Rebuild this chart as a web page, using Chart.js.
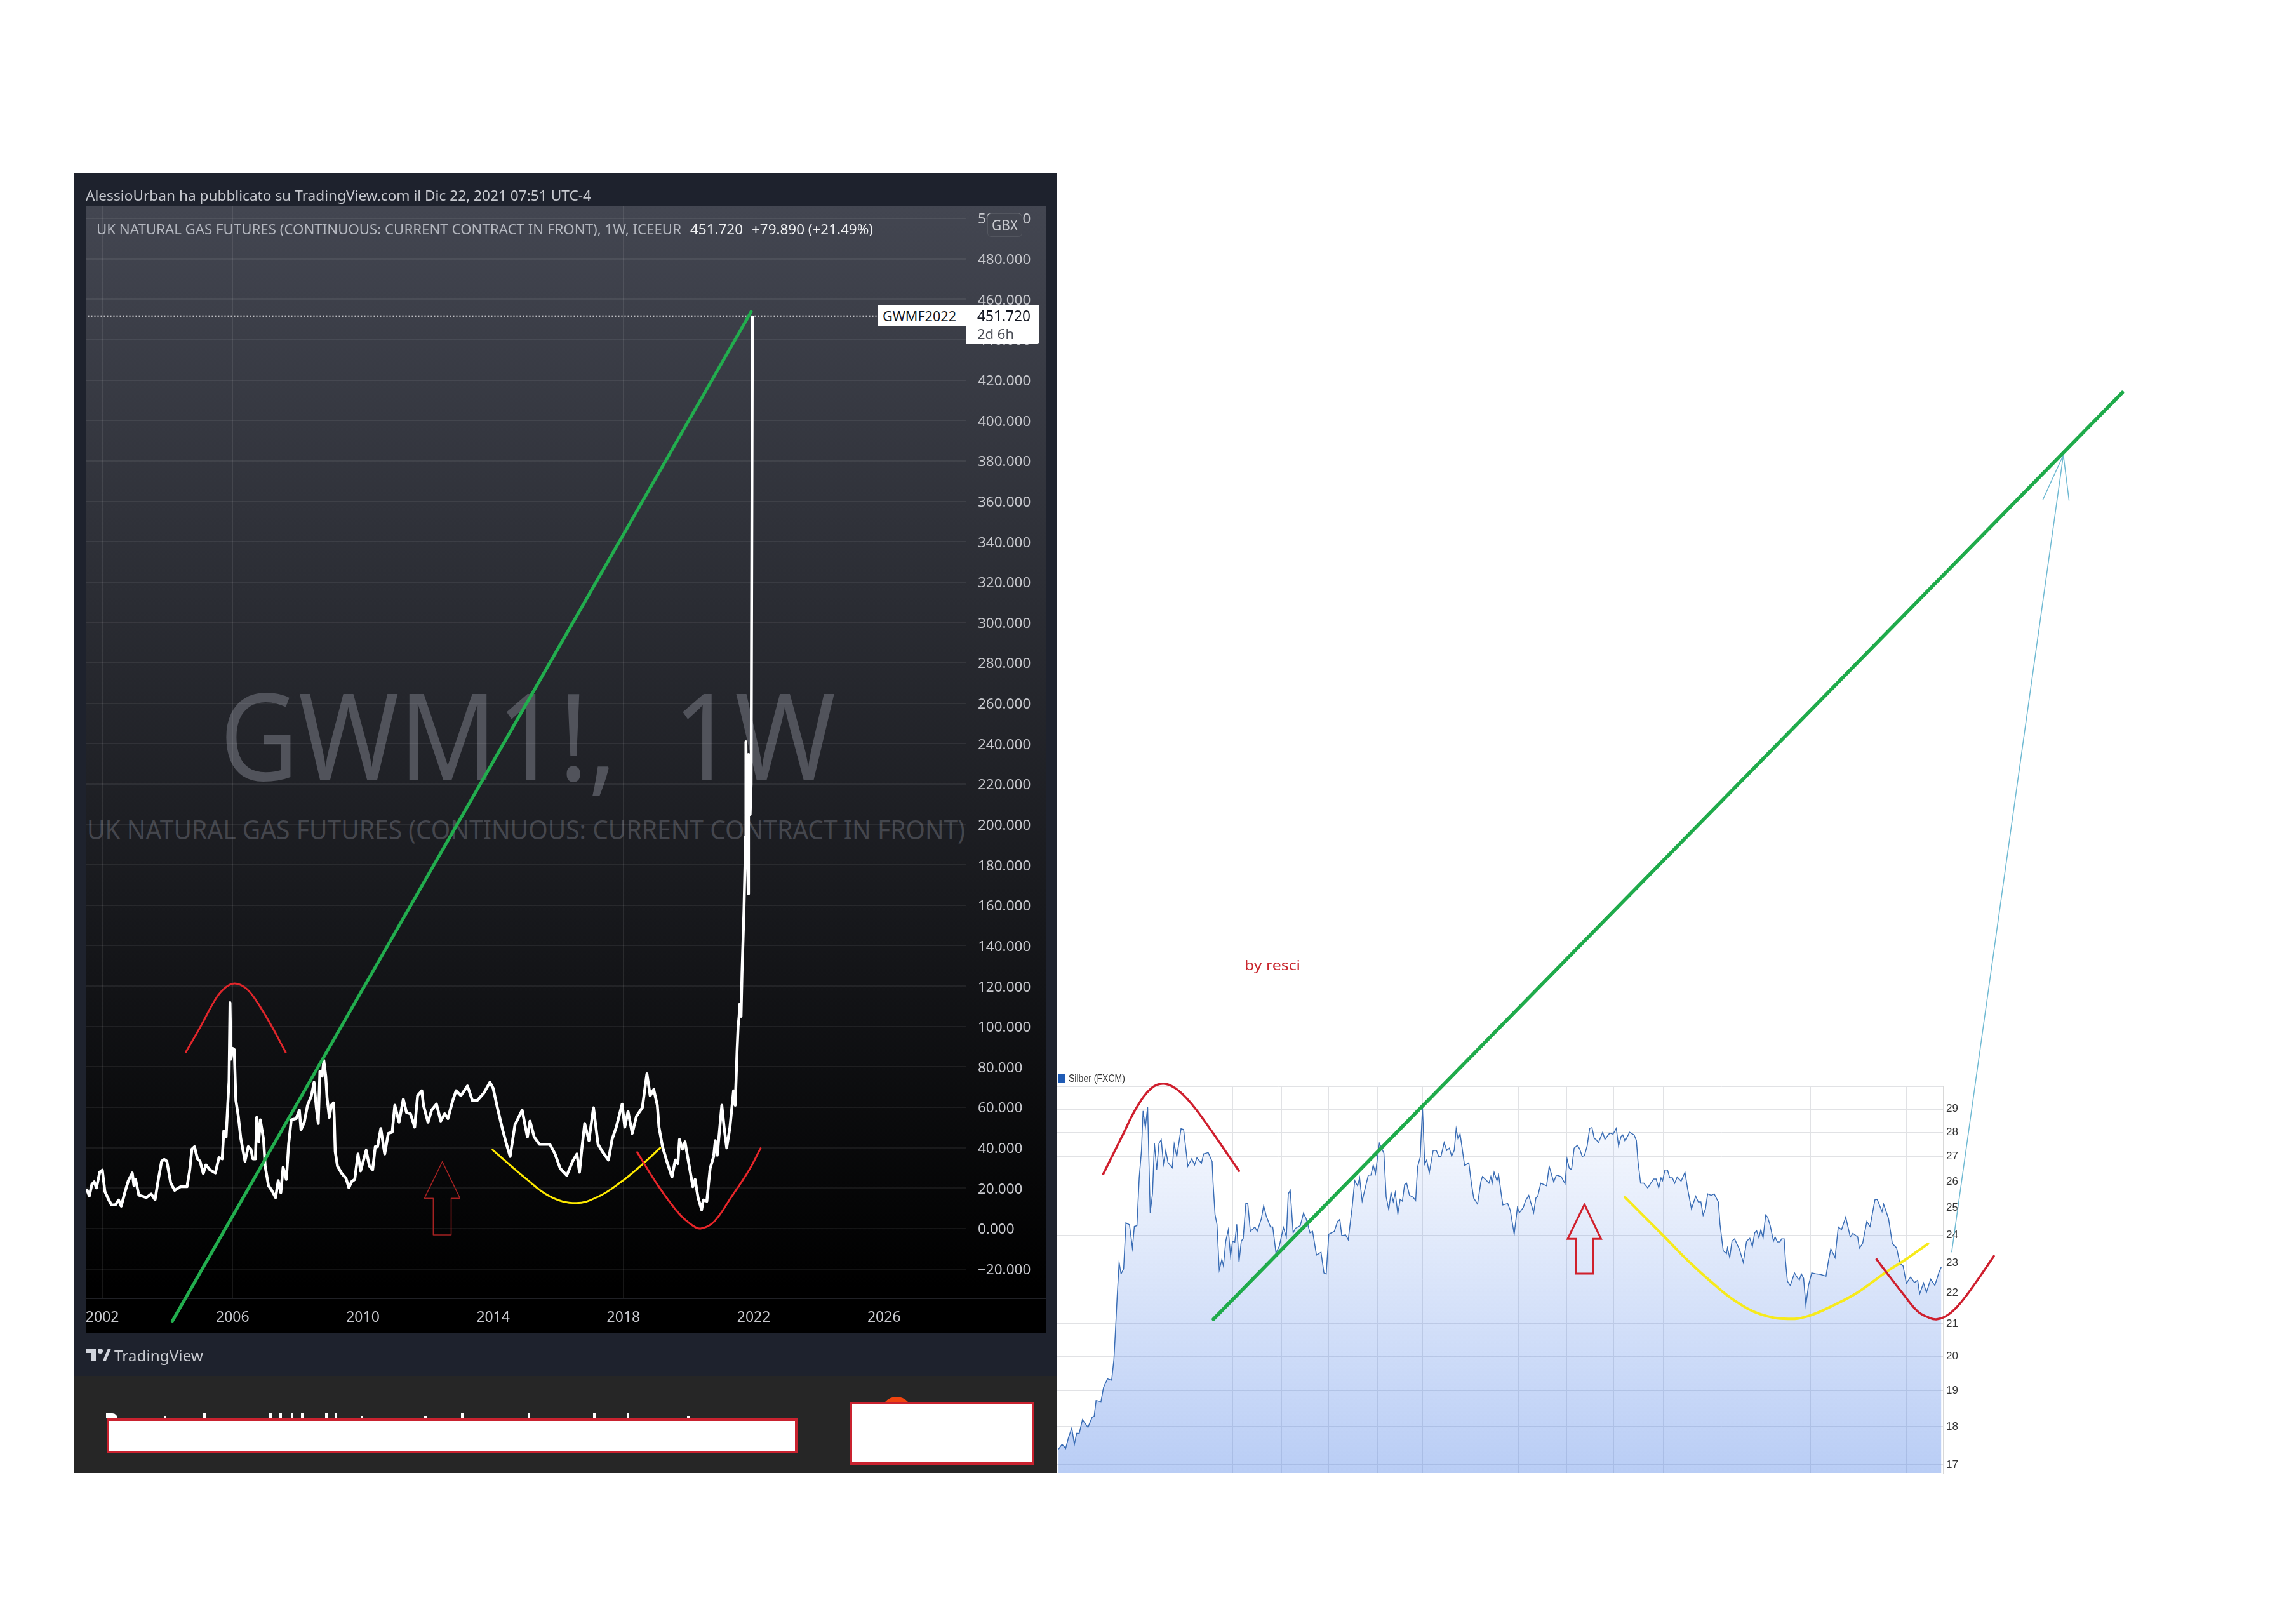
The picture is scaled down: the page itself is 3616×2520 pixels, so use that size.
<!DOCTYPE html>
<html><head><meta charset="utf-8">
<script src="https://cdn.jsdelivr.net/npm/chart.js@4/dist/chart.umd.min.js"></script>
<style>
html,body{margin:0;padding:0;background:#fff;width:3616px;height:2520px;overflow:hidden}
.b{position:absolute}
canvas{position:absolute;left:0;top:0}
.t{position:absolute;white-space:pre;font-family:"Noto Sans",sans-serif;transform-origin:left center;line-height:1}
</style></head><body>
<div class="b" style="left:116px;top:272px;width:1549px;height:1895px;background:#1e222d"></div>
<div class="b" style="left:116px;top:2167px;width:1549px;height:153px;background:#262626"></div>
<div class="b" style="left:135px;top:325px;width:1512px;height:1774px;background:linear-gradient(#434651,#000 96%)"></div>
<div class="b" style="left:1521px;top:2045px;width:1px;height:54px;background:#33353c"></div>
<div class="b" style="left:1521px;top:2044px;width:126px;height:2px;background:#202126"></div>
<div id="texts"></div>
<canvas id="gas" width="3616" height="2520"></canvas>
<canvas id="silver" width="3616" height="2520"></canvas>
<div class="b" style="left:1555px;top:336px;width:55px;height:37px;background:#42454f;border:1px solid #53565f;border-radius:6px;box-sizing:border-box"></div>
<div class="b" style="left:1382px;top:480px;width:139px;height:34px;background:#fff;border-radius:4px 0 0 4px"></div>
<div class="b" style="left:1521px;top:480px;width:116px;height:62px;background:#fff;border-radius:0 4px 4px 0"></div>
<div class="b" style="left:168px;top:2234px;width:1088px;height:55px;background:#fff;border:4px solid #c9222f;box-sizing:border-box"></div>
<div class="b" style="left:1388px;top:2200px;width:48px;height:24px;background:#f0440f;border-radius:24px 24px 0 0"></div>
<div class="b" style="left:1338px;top:2208px;width:291px;height:99px;background:#fff;border:4px solid #c9222f;box-sizing:border-box"></div>
<svg class="b" style="left:135px;top:2124px" width="40" height="20" viewBox="0 0 40 20"><path d="M0 0H16V19H8V7H0Z M27 19L35 0H40L32 19Z" fill="#d1d4dc"/><circle cx="23" cy="4" r="4" fill="#d1d4dc"/></svg>
<div id="overlays"></div>
<script>
// ---- UK natural gas futures, weekly (year, GBX)
const gasYears=[2001.52,2001.60,2001.68,2001.75,2001.82,2001.92,2002.0,2002.08,2002.2,2002.28,2002.4,2002.5,2002.58,2002.7,2002.8,2002.92,2002.97,2003.02,2003.12,2003.25,2003.35,2003.5,2003.62,2003.72,2003.82,2003.9,2003.98,2004.1,2004.22,2004.4,2004.6,2004.68,2004.75,2004.83,2004.92,2005.0,2005.1,2005.18,2005.3,2005.47,2005.58,2005.68,2005.73,2005.8,2005.85,2005.89,2005.92,2005.95,2006.0,2006.05,2006.1,2006.18,2006.25,2006.38,2006.48,2006.56,2006.62,2006.7,2006.74,2006.8,2006.85,2006.95,2007.0,2007.1,2007.2,2007.32,2007.4,2007.48,2007.55,2007.65,2007.72,2007.8,2007.95,2008.05,2008.1,2008.2,2008.3,2008.42,2008.5,2008.57,2008.63,2008.68,2008.75,2008.8,2008.86,2008.9,2008.97,2009.03,2009.1,2009.12,2009.15,2009.22,2009.35,2009.48,2009.57,2009.65,2009.75,2009.85,2009.93,2010.1,2010.2,2010.3,2010.38,2010.45,2010.55,2010.67,2010.78,2010.9,2010.98,2011.11,2011.24,2011.34,2011.46,2011.59,2011.68,2011.81,2011.86,2012.0,2012.11,2012.26,2012.39,2012.51,2012.61,2012.76,2012.86,2013.01,2013.21,2013.36,2013.51,2013.71,2013.9,2014.0,2014.13,2014.2,2014.3,2014.41,2014.52,2014.67,2014.89,2015.05,2015.13,2015.26,2015.42,2015.74,2015.9,2016.06,2016.26,2016.44,2016.57,2016.65,2016.73,2016.81,2016.94,2017.08,2017.22,2017.35,2017.54,2017.65,2017.78,2017.96,2018.04,2018.14,2018.27,2018.4,2018.58,2018.72,2018.82,2018.93,2019.04,2019.09,2019.2,2019.33,2019.49,2019.59,2019.67,2019.72,2019.81,2019.89,2020.02,2020.13,2020.2,2020.29,2020.4,2020.45,2020.56,2020.66,2020.77,2020.82,2020.88,2021.02,2021.09,2021.17,2021.27,2021.38,2021.43,2021.49,2021.52,2021.55,2021.57,2021.61,2021.64,2021.7,2021.75,2021.76,2021.78,2021.83,2021.84,2021.89,2021.92,2021.96];
const gasValues=[19.5,16.1,21.9,23.1,20.1,27.9,28.9,18.3,14.1,11.7,11.7,14.1,11.1,18.3,23.7,27.5,21.3,24.3,16.5,15.9,15.3,17.1,14.3,24.3,33.3,34.2,33.3,22.5,18.9,20.7,20.7,28.5,39.3,40.5,34.5,33.3,27.3,31.5,29.1,27.5,35.1,34.5,48.3,45.3,61,73,111.8,83.8,89.2,88.6,63.4,55,44.7,33.3,40.5,39.3,34.5,34.5,55,42.9,53.8,44.1,30.9,21.3,18.9,15.3,23.7,17.7,30.3,24.3,41.7,53.8,54.4,58.6,48.9,52.6,61,65.8,72.4,59.8,52,77.8,75.4,83.2,75.4,64.6,55,61,62.2,55,38.1,30.9,27.3,24.9,20.1,23.1,24.3,36.9,28.5,38.7,30.9,29.1,40.5,40.5,49.5,36.9,47.1,47.7,61,52.6,64,57.4,56.8,50.2,65.8,68.2,61,52.6,58.6,61.6,53.2,56.8,54.4,63.4,68.2,65.8,70.6,63.4,63.4,67,72.4,69.4,59.8,55,48.3,41.7,35.7,51.4,58.6,45.3,53.2,45.3,41.7,41.7,36.9,29.7,26.3,33.3,36.9,27.9,40.5,52,43.5,59.8,41.7,38.1,33.9,44.1,50.2,61.6,50.2,58,47.1,55.6,59.8,76.6,65.8,68.8,61,50.2,40.5,33.3,25.5,33.9,32.1,44.1,39.3,42.9,30.9,20.7,24.3,15.3,9.3,14.1,13.5,29.7,35.7,43.5,36.3,61,50.2,39.9,50.2,68.2,61,88.6,100,104.9,111,105,126.6,157.7,194,241,210,165.7,234.7,205,220,451.72];
const gasYearTicks=[2002,2006,2010,2014,2018,2022,2026];
const gasPriceTicks=[-20,0,20,40,60,80,100,120,140,160,180,200,220,240,260,280,300,320,340,360,380,400,420,440,460,480,500];
const lastPriceYears=[2028.5,2001.5];
const lastPriceValues=[451.72,451.72];
// hand-drawn marks on the gas chart
const gasTrendYears=[2021.92,2004.15];
const gasTrendValues=[453.8,-45.8];
const gasHumpYears=[2007.63,2007.18,2006.68,2006.38,2006.06,2005.78,2005.49,2005.0,2004.56];
const gasHumpValues=[87.2,100.7,113.9,119.3,121.3,119.3,113.9,99.5,87.2];
const gasYellowYears=[2019.13,2018.52,2017.88,2017.24,2016.55,2015.74,2014.99,2013.98];
const gasYellowValues=[39.9,30.9,22.5,15.9,12.6,15.9,24.9,39];
const gasCupYears=[2022.21,2021.84,2021.3,2020.77,2020.37,2020.13,2019.7,2019.06,2018.42];
const gasCupValues=[39.7,28.5,15.3,3.2,0,1.4,7.5,21.3,37.8];
const gasArrowYears=[2012.44,2012.98,2012.71,2012.71,2012.16,2012.16,2011.89,2012.44];
const gasArrowValues=[33.1,15,15,-3.2,-3.2,15,15,33.1];
// ---- Silber (FXCM), day count along the axis
const silverDays=[2.8,5,7.2,9,11,12.6,14,15.6,17.6,21,23.6,24.8,26,29,30.6,33,35.6,37,38,39,40.2,41.4,43,44.4,46.6,48.4,49.6,51.2,52.6,54,55,56.4,57.8,59.4,60.8,62,63.4,64.8,66.2,67.6,69,70.4,73,74.2,75.8,78.4,80,82.6,85,86.8,88.2,91,92.4,95.2,97.6,98.2,99.4,100.6,102,103.6,104.6,106,107.6,109,110.2,111.6,112.8,114.2,115.6,116.8,118.4,119.6,121.2,124,125.4,128,129.4,131,133.6,135,137,139,141.6,143.4,144.6,145.8,147.6,149,152,154,155.6,158,159.6,162,164.8,166.6,168,169.6,173,175,176.4,177.6,180,181.6,184,185.6,187.4,188.6,190.2,192.4,194,195.6,197,198.4,200.8,203.6,205,206.6,208,209.4,210.6,212.2,213.6,215,216.4,217.6,219.4,221.6,223.2,224.4,226,227.4,228.8,230,231.6,234,236,237.4,238.8,240.8,242.4,244,245.4,247,248.2,249.4,250.6,251.6,253.4,256,257.6,259,261.4,263.4,264.4,267,268.4,269.6,270.4,271.6,273.4,274.4,276,277,280,281.6,284,286,287.2,289.6,291,293,296,297.4,298.6,300.4,304,305.6,308.4,310,313,315.4,316.6,318,319.4,321,323,324.4,326,327.4,329,330.6,332,333.4,334.4,336,338.6,340,343,345,347,348.4,350,351,352.4,355.2,358,359.4,360.4,362,364,366.4,370,371.6,373.2,374.6,375.6,377,378.6,380,381.6,383,384.6,387,389.4,391,393.4,396,397.6,399.2,400.6,402,403.4,405.6,407.4,410,411,413,415,415.6,417,418.4,420,423,425.4,427.4,429.4,431,432.4,433.6,435,436.2,437.6,439.2,440.4,442,444,445,446.4,448,449,450.6,451.4,452.6,454.4,457,459,460,461.2,462.6,464,465.6,467.6,470,473,476.4,478,479.4,482,484,486,488.6,491.4,493,496,497,499,501.6,503.6,506.6,508,511,512,515,517.4,520,522,524,526,528.6,531,533,534.2,536.6,538.4,541,543.6,546,547.6];
const silverValues=[17.4,17.53,17.42,17.71,17.96,17.53,17.82,17.82,18.19,17.98,18.26,18.28,18.72,18.69,19.09,19.34,19.3,19.91,20.83,21.88,23.03,22.64,22.81,24.44,24.37,23.54,24.31,24.34,26.15,27.25,28.91,28.2,29.09,24.82,25.53,27.54,26.48,27.54,27.69,26.7,27.25,26.75,26.55,27.51,27,28.15,28.12,26.61,26.91,26.67,26.95,26.73,27.11,27.16,26.8,25.94,24.75,24.39,22.77,23.14,22.91,23.78,24.19,23.25,23.78,23.74,24.39,23.05,23.78,23.88,25.16,25.16,24.13,24.29,24.13,24.6,25.08,24.7,24.29,24.29,23.37,23.59,24.27,23.93,25.53,25.66,24.08,24.24,24.34,24.8,24.6,24.08,24.13,23.29,23.39,22.67,22.64,24.03,24.13,24.49,24.57,23.98,24,23.83,25.01,26.04,25.84,26.15,25.25,25.84,26.26,26.26,26.66,26.32,27.54,27.14,25.42,24.93,25.58,25.23,25.58,24.77,25.32,25.25,25.89,25.94,25.47,25.4,25.27,26.59,26.97,29.06,26.7,26.86,26.35,27.25,27.25,27,27,27.57,27.25,27.34,27.02,27.25,28.15,27.71,27.94,27.48,26.64,26.75,25.94,25.37,25.14,25.99,26.2,26.04,25.94,26.2,25.94,26.37,26.04,26.26,25.53,25.11,25.16,24.91,24.03,25.01,24.82,25.01,25.27,25.47,24.82,25.37,25.45,25.94,25.84,26.6,25.99,26.26,26.2,25.92,26.91,26.53,26.48,27.34,27.46,27.31,27,27.05,27.43,28.17,28.2,27.74,27.71,27.57,28,27.71,27.97,27.92,28.17,27.43,27.83,27.89,27.63,28,27.89,27.66,26.8,25.94,25.94,25.76,26.1,26.1,25.76,26.15,26.04,26.46,26.46,26.15,26.15,25.94,26.18,26.02,26.37,25.73,24.96,25.44,25.22,25.22,24.72,24.96,25.53,25.47,25.53,25.22,24.39,23.44,23.34,23.54,23.2,23.78,23.86,23.49,23.03,23.78,23.88,23.59,24.08,24.16,23.9,24.19,23.9,24.73,24.65,24.34,23.78,23.93,23.75,23.75,23.86,23.86,23.1,22.39,22.25,22.67,22.49,22.44,22.64,22.49,21.6,22.25,22.67,22.64,22.62,22.56,23.1,23.51,23.2,24.29,24.19,24.65,23.93,24.06,23.93,23.53,23.69,24.49,24.31,25.3,25.32,24.86,25.13,24.6,23.69,23.54,23,22.91,22.32,22.53,22.35,22.42,21.97,22.33,22.02,22.46,22.25,22.67,22.88];
const silverMonthTicks=[19.8,51,80.2,110.2,140.6,169.6,199.6,227.4,255,286.6,316.4,345.4,376,406.2,436.4,467,495.6,526.2];
const silverPriceTicks=[17,18,19,20,21,22,23,24,25,26,27,28,29,30];
// hand-drawn marks on the silver chart
const silverTrendDays=[659.3,98.4];
const silverTrendValues=[85,21.15];
const silverHumpDays=[114.2,106,96,84,75,67.4,60,51,42,30.4];
const silverHumpValues=[26.42,27.2,28.18,29.3,29.91,30.12,29.91,29.06,27.83,26.3];
const silverYellowDays=[539.4,526,514,496,482,466,453,436,420,406,392,376,352.4];
const silverYellowValues=[23.69,23.15,22.72,22.02,21.62,21.26,21.16,21.31,21.75,22.35,23.05,23.98,25.4];
const silverCupDays=[580,570,560,552,545,540,533,524,514,507.6];
const silverCupValues=[23.25,22.44,21.71,21.3,21.15,21.2,21.4,21.97,22.67,23.14];
const silverUpArrowDays=[327.4,337.6,332.6,332.6,322.2,322.2,317,327.4];
const silverUpArrowValues=[25.13,23.86,23.86,22.65,22.65,23.86,23.86,25.13];
const silverBlueArrowDays=[554,622.9,610.3,622.9,626.4];
const silverBlueArrowValues=[23.4,77.4,72.4,77.4,72.3];

const zip=(xs,ys)=>xs.map((x,i)=>({x,y:ys[i]}));
const mark=(xs,ys,color,width,extra)=>Object.assign({data:zip(xs,ys),borderColor:color,borderWidth:width,pointRadius:0,fill:false,clip:false,tension:0,borderJoinStyle:'round',borderCapStyle:'round'},extra||{});
const setTicks=list=>scale=>{scale.ticks=list.map(value=>({value}))};
const baseOptions={responsive:false,animation:false,devicePixelRatio:1,
  plugins:{legend:{display:false},tooltip:{enabled:false},title:{display:false}},events:[]};

new Chart(document.getElementById('gas'),{type:'line',
 data:{datasets:[
  mark(gasTrendYears,gasTrendValues,'#22ad4e',5),
  mark(gasHumpYears,gasHumpValues,'#e0262b',3,{tension:.4}),
  mark(gasCupYears,gasCupValues,'#e8262a',3,{tension:.4}),
  mark(gasYellowYears,gasYellowValues,'#ffea00',3,{tension:.4}),
  mark(gasArrowYears,gasArrowValues,'#a52222',1.5),
  {data:zip(gasYears,gasValues),borderColor:'#fff',borderWidth:4.5,pointRadius:0,fill:false,tension:0,borderJoinStyle:'round'},
  mark(lastPriceYears,lastPriceValues,'#e8e8ea',2,{borderDash:[2,3],borderCapStyle:'butt'})
 ]},
 options:{...baseOptions,
  layout:{padding:{left:135,top:325,right:1969,bottom:421}},
  scales:{
   x:{type:'linear',min:2001.49,max:2028.51,afterBuildTicks:setTicks(gasYearTicks),afterFit:s=>{s.height=54},
      grid:{color:'rgba(255,255,255,.09)',lineWidth:1,drawTicks:false},border:{color:'#202126',width:2},
      ticks:{autoSkip:false,maxRotation:0,padding:17,color:'#c9cacf',font:{family:'"Noto Sans"',size:23},callback:v=>String(v)}},
   y:{type:'linear',position:'right',min:-34.6,max:506,afterBuildTicks:setTicks(gasPriceTicks),afterFit:s=>{s.width=126},
      grid:{color:'rgba(255,255,255,.07)',lineWidth:2,drawTicks:false},border:{color:'#44464e',width:1},
      ticks:{autoSkip:false,padding:19,labelOffset:2,color:'#c9cacf',font:{family:'"Noto Sans"',size:22.5},callback:v=>v.toFixed(3).replace('-','\u2212')}}
  }}
});

const sctx=document.getElementById('silver').getContext('2d');
const fillGrad=sctx.createLinearGradient(0,1711,0,2320);
fillGrad.addColorStop(0,'rgba(80,130,230,.02)');
fillGrad.addColorStop(1,'rgba(80,130,230,.40)');
new Chart(sctx,{type:'line',
 data:{datasets:[
  mark(silverTrendDays,silverTrendValues,'#1fab4b',5.5),
  mark(silverBlueArrowDays,silverBlueArrowValues,'#6fb9d2',1.5),
  mark(silverHumpDays,silverHumpValues,'#cf1f2e',3.5,{tension:.4}),
  mark(silverCupDays,silverCupValues,'#cf1f2e',3.5,{tension:.4}),
  mark(silverYellowDays,silverYellowValues,'#f7ea1b',4,{tension:.4}),
  mark(silverUpArrowDays,silverUpArrowValues,'#d0202c',3,{borderJoinStyle:'miter'}),
  {data:zip(silverDays,silverValues),borderColor:'#3a6db5',borderWidth:1.5,pointRadius:0,fill:'start',backgroundColor:fillGrad,tension:0}
 ]},
 options:{...baseOptions,
  layout:{padding:{left:1665,top:1711,right:506,bottom:200}},
  scales:{
   x:{type:'linear',min:2,max:548.6,afterBuildTicks:setTicks(silverMonthTicks),afterFit:s=>{s.height=0},
      grid:{color:'#e1e2e5',lineWidth:1,drawTicks:false},border:{display:false},ticks:{display:false,autoSkip:false}},
   y:{type:'logarithmic',position:'right',min:16.79,max:30,afterBuildTicks:setTicks(silverPriceTicks),afterFit:s=>{s.width=50},
      grid:{color:'#e1e2e5',lineWidth:c=>[29,21,19,17].includes(c.tick&&c.tick.value)?2:1,drawTicks:false},border:{color:'#d8d8d8',width:1},
      ticks:{autoSkip:false,padding:5,color:'#333',font:{family:'"Liberation Sans Narrow","Liberation Sans"',size:17},callback:v=>v===30?'':String(v)}}
  }}
});

// ---- texts, each fitted to the width it has in the reference
function put(parent,str,left,cy,size,color,width,extra){
  const d=document.createElement('div');d.className='t';d.textContent=str;
  d.style.left=left+'px';d.style.top=(cy-size/2)+'px';d.style.fontSize=size+'px';d.style.color=color;
  if(extra)Object.assign(d.style,extra);
  parent.appendChild(d);
  if(width){const w=d.getBoundingClientRect().width;d.style.transform='scaleX('+(width/w)+')';}
  return d;
}
const under=document.getElementById('texts'),over=document.getElementById('overlays');
put(under,'GWM1!,  1W',346,1156,190,'#51535b',970);
put(under,'UK NATURAL GAS FUTURES (CONTINUOUS: CURRENT CONTRACT IN FRONT)',137,1306,42,'#44464d',1383);
put(over,'AlessioUrban ha pubblicato su TradingView.com il Dic 22, 2021 07:51 UTC-4',135,307,22,'#c6c8ce',796);
put(over,'UK NATURAL GAS FUTURES (CONTINUOUS: CURRENT CONTRACT IN FRONT), 1W, ICEEUR',152,360,22,'#b4b7bf',921);
put(over,'451.720',1087,360,22,'#f0f1f3',83);
put(over,'+79.890 (+21.49%)',1184,360,22,'#f0f1f3',191);
put(over,'GBX',1562,354,23,'#c9cacf',41);
put(over,'GWMF2022',1390,497,22,'#131722',116);
put(over,'451.720',1539,497,23,'#131722',84);
put(over,'2d 6h',1539,525,22,'#4a4d55',58);
put(over,'TradingView',180,2135,24,'#c8cad0',140);
put(over,'Silber (FXCM)',1683,1698,17,'#333',89,{fontFamily:'"Liberation Sans Narrow","Liberation Sans"'});
put(over,'by resci',1960,1519,22,'#c9272e',88);
// legend square of the silver chart
const sq=document.createElement('div');sq.className='b';
Object.assign(sq.style,{left:'1666px',top:'1691px',width:'10px',height:'13px',background:'#1f5bb5',border:'1px solid #234'});over.appendChild(sq);
// slivers of a headline that the censor box hides
[[167,18,8,'0 8px 0 0'],[258,4,4],[320,4,9],[424,5,9],[440,4,9],[458,4,9],[474,4,9],[512,4,9],[527,4,9],[568,4,4],[668,4,4],[726,4,9],[831,4,9],[934,4,9],[987,4,9],[1082,4,4]].forEach(([x,w,h,r])=>{
  const s=document.createElement('div');s.className='b';
  Object.assign(s.style,{left:x+'px',top:(2234-h)+'px',width:w+'px',height:h+'px',background:'#fff',borderRadius:r||'0'});over.appendChild(s);
});
</script>
</body></html>
